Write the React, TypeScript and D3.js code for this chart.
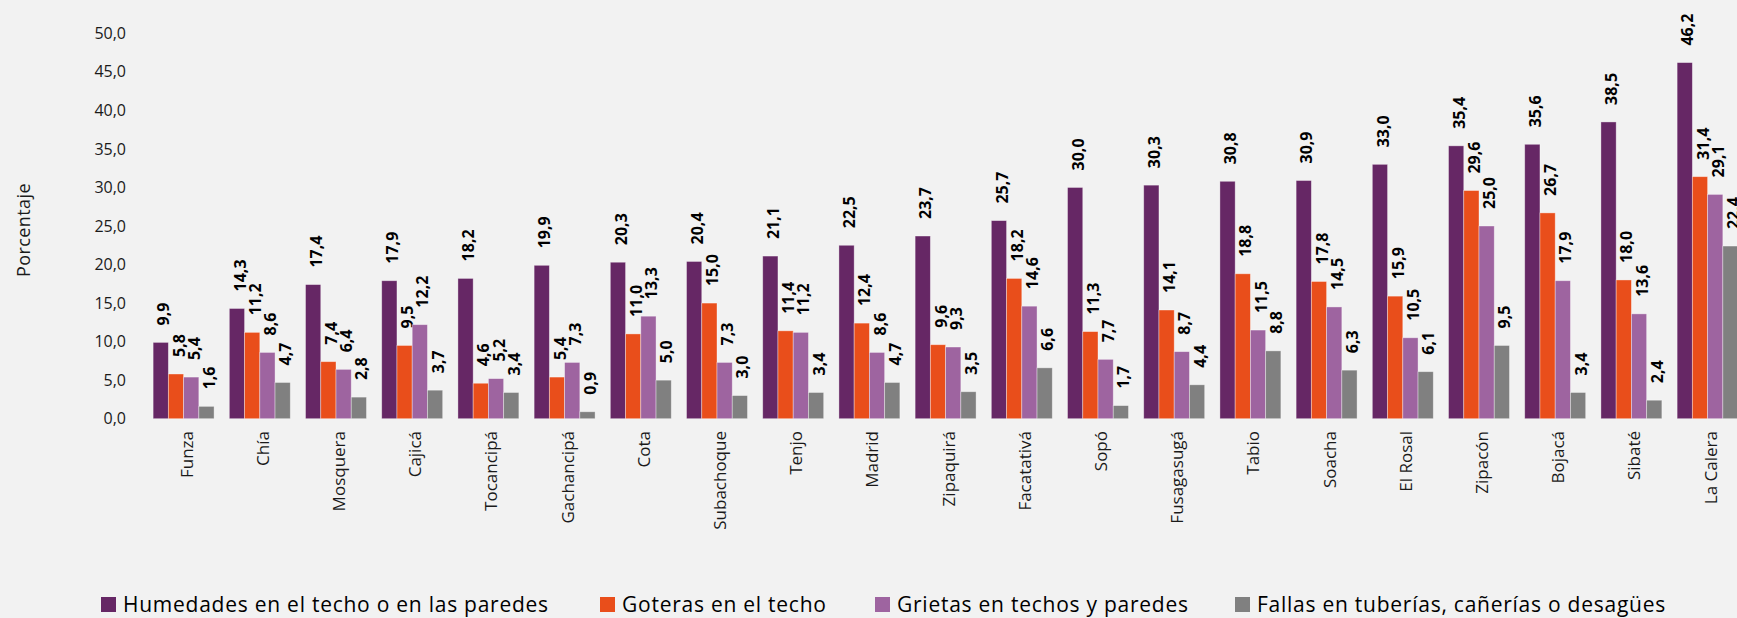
import React, { useEffect, useRef } from "react";
import * as d3 from "d3";

const municipios = ["Funza", "Chía", "Mosquera", "Cajicá", "Tocancipá", "Gachancipá", "Cota", "Subachoque", "Tenjo", "Madrid", "Zipaquirá", "Facatativá", "Sopó", "Fusagasugá", "Tabio", "Soacha", "El Rosal", "Zipacón", "Bojacá", "Sibaté", "La Calera"];
const humedades = [9.9, 14.3, 17.4, 17.9, 18.2, 19.9, 20.3, 20.4, 21.1, 22.5, 23.7, 25.7, 30.0, 30.3, 30.8, 30.9, 33.0, 35.4, 35.6, 38.5, 46.2];
const goteras = [5.8, 11.2, 7.4, 9.5, 4.6, 5.4, 11.0, 15.0, 11.4, 12.4, 9.6, 18.2, 11.3, 14.1, 18.8, 17.8, 15.9, 29.6, 26.7, 18.0, 31.4];
const grietas = [5.4, 8.6, 6.4, 12.2, 5.2, 7.3, 13.3, 7.3, 11.2, 8.6, 9.3, 14.6, 7.7, 8.7, 11.5, 14.5, 10.5, 25.0, 17.9, 13.6, 29.1];
const fallas = [1.6, 4.7, 2.8, 3.7, 3.4, 0.9, 5.0, 3.0, 3.4, 4.7, 3.5, 6.6, 1.7, 4.4, 8.8, 6.3, 6.1, 9.5, 3.4, 2.4, 22.4];
const seriesNames = ["Humedades en el techo o en las paredes", "Goteras en el techo", "Grietas en techos y paredes", "Fallas en tuberías, cañerías o desagües"];
const yTicks = [0, 5, 10, 15, 20, 25, 30, 35, 40, 45, 50];

const colors = ["#662765", "#E94E1B", "#9E64A0", "#808080"];
const font = "'Open Sans', 'Noto Sans', sans-serif";
const fmt = (v: number) => v.toFixed(1).replace(".", ",");

export default function App() {
  const svgRef = useRef<SVGSVGElement>(null);

  useEffect(() => {
    document.body.style.margin = "0";
    const w = 1737;
    const h = 618;
    const svg = d3.select(svgRef.current).attr("width", w).attr("height", h);
    svg.selectAll("*").remove();
    svg.append("rect").attr("width", w).attr("height", h).attr("fill", "#F2F2F2");

    const series = [humedades, goteras, grietas, fallas];

    // scales
    const x = d3.scaleBand<string>().domain(municipios).range([145.5, 1745.7]).paddingInner(0.2).paddingOuter(0.1);
    const xs = d3.scaleBand<number>().domain([0, 1, 2, 3]).range([0, x.bandwidth()]);
    const y = d3.scaleLinear().domain([0, 50]).range([418.7, 33.3]);

    // y axis labels
    svg.append("g")
      .selectAll("text")
      .data(yTicks)
      .join("text")
      .attr("x", 126)
      .attr("y", (d) => y(d))
      .attr("dy", "0.35em")
      .attr("text-anchor", "end")
      .attr("font-family", font)
      .attr("font-size", 16)
      .attr("fill", "#1a1a1a")
      .text((d) => fmt(d));

    svg.append("text")
      .attr("transform", `translate(24,230) rotate(-90)`)
      .attr("dy", "0.35em")
      .attr("text-anchor", "middle")
      .attr("font-family", font)
      .attr("font-size", 18)
      .attr("letter-spacing", 0.4)
      .attr("fill", "#1a1a1a")
      .text("Porcentaje");

    // bars
    series.forEach((vals, si) => {
      const g = svg.append("g");
      g.selectAll("rect")
        .data(vals)
        .join("rect")
        .attr("x", (d, i) => x(municipios[i])! + xs(si)!)
        .attr("y", (d) => y(d))
        .attr("width", xs.bandwidth())
        .attr("height", (d) => y(0) - y(d))
        .attr("fill", colors[si])
        .attr("stroke", "#ffffff")
        .attr("stroke-opacity", 0.45)
        .attr("stroke-width", 0.8);

      g.selectAll("text")
        .data(vals)
        .join("text")
        .attr("transform", (d, i) => `translate(${x(municipios[i])! + xs(si)! + xs.bandwidth() / 2 + 3},${y(d) - 17}) rotate(-90)`)
        .attr("dy", "0.35em")
        .attr("font-family", font)
        .attr("font-weight", "bold")
        .attr("font-size", 16)
        .attr("fill", "#000")
        .text((d) => fmt(d));
    });

    // category labels
    svg.append("g")
      .selectAll("text")
      .data(municipios)
      .join("text")
      .attr("transform", (d) => `translate(${x(d)! + x.bandwidth() / 2 + 3},431) rotate(-90)`)
      .attr("dy", "0.35em")
      .attr("text-anchor", "end")
      .attr("font-family", font)
      .attr("font-size", 17)
      .attr("fill", "#1a1a1a")
      .text((d) => d);

    // legend
    const legendX = [101, 600, 875, 1235];
    const lg = svg.append("g").selectAll("g").data(seriesNames).join("g")
      .attr("transform", (d, i) => `translate(${legendX[i]},597)`);
    lg.append("rect").attr("width", 15).attr("height", 15).attr("fill", (d, i) => colors[i]);
    lg.append("text")
      .attr("x", 22)
      .attr("y", 7.5)
      .attr("dy", "0.35em")
      .attr("font-family", font)
      .attr("font-size", 21)
      .attr("letter-spacing", 0.75)
      .attr("fill", "#000")
      .text((d) => d);
  }, []);

  return (
    <div>
      <svg ref={svgRef} style={{ display: "block" }}></svg>
    </div>
  );
}
